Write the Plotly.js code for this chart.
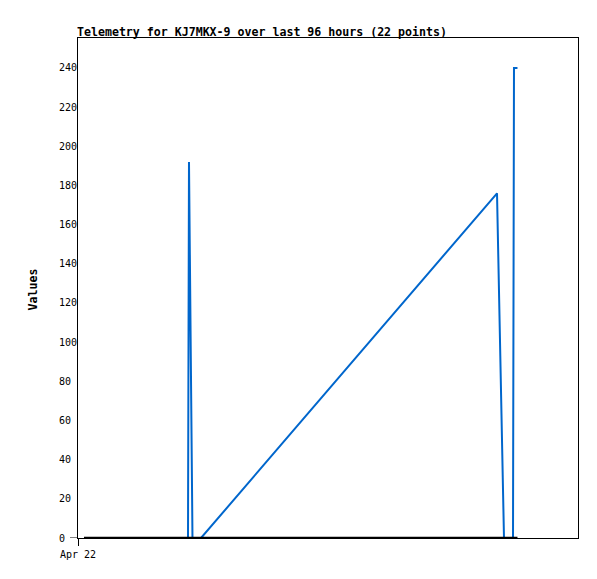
<!DOCTYPE html>
<html>
<head>
<meta charset="utf-8">
<script src="https://cdn.plot.ly/plotly-3.0.1.min.js"></script>
<style>
  html, body { margin: 0; padding: 0; background: #ffffff; }
  #chart { width: 597px; height: 579px; }
</style>
</head>
<body>
<div id="chart"></div>
<script>
// Hours since the start of the 96-hour window
const hours = [1.15, 21.12, 21.31, 21.98, 23.62, 80.45, 81.79, 83.52, 83.71, 84.38];
// Telemetry values (blue channel)
const values = [0, 0, 192, 0, 0, 176, 0, 0, 240, 240];
// Second channel (all zero)
const zeroHours = [1.15, 84.38];
const zeroValues = [0, 0];
// Axis ticks
const yTicks = [0, 20, 40, 60, 80, 100, 120, 140, 160, 180, 200, 220, 240];
const yTickText = ["0", "20", "40", "60", "80", "100", "120", "140", "160", "180", "200", "220", "240"];
const xTickVals = [0];
const xTickText = ["Apr 22"];

const mono = "DejaVu Sans Mono, monospace";
// left-align the y tick labels (monospace): pad with no-break spaces
const padded = yTickText.map(t => t + "\u00a0".repeat(3 - t.length));

const traces = [
  {
    x: hours, y: values, type: "scatter", mode: "lines",
    line: { color: "#0066cc", width: 2 },
    hoverinfo: "skip", showlegend: false
  },
  {
    x: zeroHours, y: zeroValues, type: "scatter", mode: "lines",
    line: { color: "#000000", width: 2.5 },
    hoverinfo: "skip", showlegend: false, cliponaxis: false
  }
];

const layout = {
  width: 597, height: 579,
  margin: { l: 78, r: 19, t: 38, b: 41 },
  paper_bgcolor: "#ffffff", plot_bgcolor: "#ffffff",
  showlegend: false,
  font: { family: mono, size: 10, color: "#000000" },
  title: {
    text: "<b>Telemetry for KJ7MKX-9 over last 96 hours (22 points)</b>",
    font: { family: mono, size: 11.6, color: "#000000" },
    x: 77 / 597, xanchor: "left", xref: "container",
    y: 1 - 31.5 / 579, yanchor: "middle", yref: "container"
  },
  xaxis: {
    range: [0, 96], fixedrange: true,
    showgrid: false, zeroline: false,
    showline: true, linecolor: "#000000", linewidth: 1, mirror: true,
    ticks: "outside", ticklen: 7, tickcolor: "#000000", tickwidth: 1,
    tickvals: xTickVals, ticktext: xTickText,
    tickfont: { family: mono, size: 10, color: "#000000" }
  },
  yaxis: {
    range: [0, 255.3], fixedrange: true,
    showgrid: false, zeroline: false,
    showline: true, linecolor: "#000000", linewidth: 1, mirror: true,
    ticks: "",
    tickvals: yTicks, ticktext: padded,
    ticklabelstandoff: -2,
    ticklabelshift: 1.5,
    tickfont: { family: mono, size: 10, color: "#000000" }
  },
  shapes: [
    {
      type: "line", xref: "paper", yref: "y",
      x0: -8 / 500, x1: 0, y0: 0, y1: 0,
      line: { color: "#000000", width: 1 }
    }
  ],
  annotations: [
    {
      text: "<b>Values</b>", textangle: -90,
      xref: "paper", yref: "paper",
      x: (32 - 78) / 500, y: (538 - 289.5) / 500,
      xanchor: "center", yanchor: "middle", showarrow: false,
      font: { family: mono, size: 11.6, color: "#000000" }
    }
  ]
};

Plotly.newPlot("chart", traces, layout, { staticPlot: true, displayModeBar: false });
</script>
</body>
</html>
